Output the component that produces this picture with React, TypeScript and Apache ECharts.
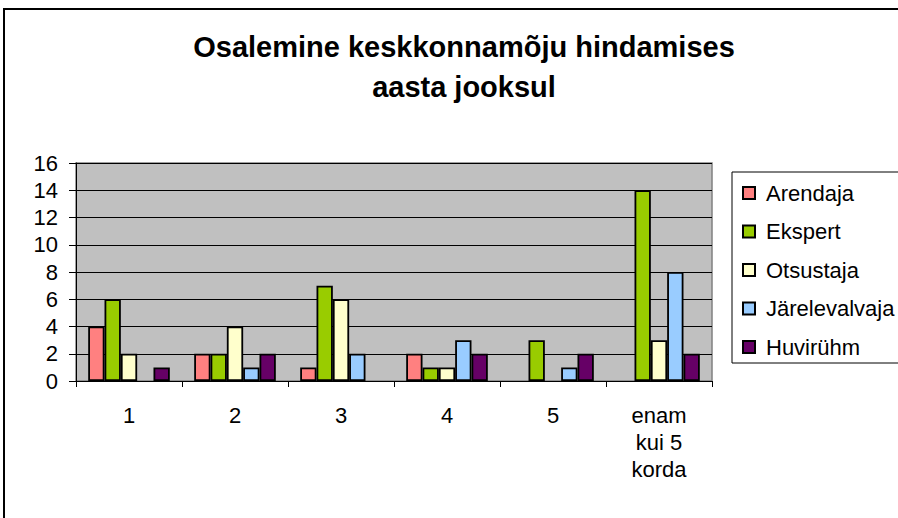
import React, { useEffect, useRef } from "react";
import * as echarts from "echarts";

const categories = ["1", "2", "3", "4", "5", "enam\nkui 5\nkorda"];
const seriesNames = ["Arendaja", "Ekspert", "Otsustaja", "Järelevalvaja", "Huvirühm"];
const arendaja = [4, 2, 1, 2, 0, 0];
const ekspert = [6, 2, 7, 1, 3, 14];
const otsustaja = [2, 4, 6, 1, 0, 3];
const jarelevalvaja = [0, 1, 2, 3, 1, 8];
const huviruhm = [1, 2, 0, 2, 2, 2];
const seriesValues = [arendaja, ekspert, otsustaja, jarelevalvaja, huviruhm];
const colors = ["#FF8080", "#99CC00", "#FFFFCC", "#99CCFF", "#660066"];
const titleText = "Osalemine keskkonnamõju hindamises\naasta jooksul";

export default function App() {
  const ref = useRef<HTMLDivElement>(null);
  useEffect(() => {
    document.body.style.margin = "0";
    const chart = echarts.init(ref.current!, undefined, { renderer: "svg" });
    const font = "'Liberation Sans', Arial, sans-serif";
    chart.setOption({
      animation: false,
      backgroundColor: "#ffffff",
      textStyle: { fontFamily: font },
      title: {
        text: titleText,
        left: 459,
        top: 22,
        textAlign: "center",
        textStyle: { fontSize: 29, fontWeight: "bold", color: "#000", lineHeight: 40, fontFamily: font },
      },
      graphic: [
        {
          type: "rect",
          shape: { x: 4, y: 9, width: 900, height: 520 },
          style: { fill: "none", stroke: "#000", lineWidth: 2 },
          silent: true,
        },
        {
          type: "rect",
          shape: { x: 732, y: 172, width: 170, height: 191 },
          style: { fill: "none", stroke: "#000", lineWidth: 1 },
          silent: true,
        },
      ],
      legend: {
        orient: "vertical",
        left: 742,
        top: 182,
        itemWidth: 12,
        itemHeight: 12,
        itemGap: 16.5,
        icon: "rect",
        padding: 0,
        textStyle: { fontSize: 22, color: "#000", fontFamily: font, lineHeight: 22, padding: [0, 0, 0, 6] },
        data: seriesNames,
      },
      grid: {
        left: 76,
        top: 163,
        width: 636,
        height: 218,
        show: true,
        backgroundColor: "#C0C0C0",
        borderColor: "#808080",
        borderWidth: 1.5,
      },
      xAxis: {
        type: "category",
        data: categories,
        axisLine: { lineStyle: { color: "#000", width: 1 } },
        axisTick: { show: true, length: 6, lineStyle: { color: "#000" } },
        axisLabel: { fontSize: 22, color: "#000", margin: 21, lineHeight: 27, fontFamily: font },
      },
      yAxis: {
        type: "value",
        min: 0,
        max: 16,
        interval: 2,
        axisLine: { show: true, lineStyle: { color: "#000", width: 1 } },
        axisTick: { show: true, length: 7, lineStyle: { color: "#000" } },
        axisLabel: { fontSize: 22, color: "#000", margin: 18, fontFamily: font },
        splitLine: { show: true, lineStyle: { color: "#000", width: 1 } },
      },
      series: seriesNames.map((name, i) => ({
        name,
        type: "bar",
        data: seriesValues[i].map((v) => (v === 0 ? null : v)),
        barGap: "0%",
        barCategoryGap: "23%",
        itemStyle: { color: colors[i], borderColor: "#000", borderWidth: 1.8 },
      })),
    });
    return () => chart.dispose();
  }, []);
  return <div ref={ref} style={{ width: 898, height: 518 }} />;
}
